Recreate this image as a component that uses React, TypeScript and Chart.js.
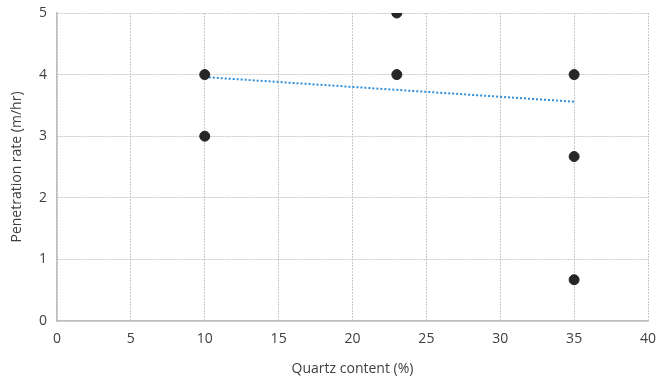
import React, { useEffect, useRef } from "react";
import { Chart, registerables } from "chart.js";

Chart.register(...registerables);

const quartzContent = [10, 10, 23, 23, 35, 35, 35];
const penetrationRate = [4, 3, 5, 4, 4, 2.67, 0.67];
const trendX = [10, 35];
const trendY = [3.96, 3.56];
const xTicks = [0, 5, 10, 15, 20, 25, 30, 35, 40];
const yTicks = [0, 1, 2, 3, 4, 5];

const FONT = "'Open Sans', 'Noto Sans', sans-serif";

export default function App() {
  const ref = useRef<HTMLCanvasElement | null>(null);
  useEffect(() => {
    document.body.style.margin = "0";
    const ctx = ref.current!;
    const chart = new Chart(ctx, {
      type: "scatter",
      data: {
        datasets: [
          {
            label: "Trend",
            data: trendX.map((x, i) => ({ x, y: trendY[i] })),
            showLine: true,
            borderColor: "#2f8fdc",
            borderWidth: 2,
            borderDash: [2, 2],
            pointRadius: 0,
            fill: false,
            order: 2,
          },
          {
            label: "Data",
            data: quartzContent.map((x, i) => ({ x, y: penetrationRate[i] })),
            backgroundColor: "#262626",
            borderColor: "#262626",
            pointRadius: 5,
            pointHoverRadius: 5,
            order: 1,
          },
        ],
      },
      options: {
        animation: false,
        responsive: false,
        layout: { padding: { left: 0, right: 10, top: 13, bottom: 0 } },
        plugins: { legend: { display: false }, tooltip: { enabled: false } },
        scales: {
          x: {
            type: "linear",
            min: 0,
            max: 40,
            afterBuildTicks: (s: any) => {
              s.ticks = xTicks.map((v) => ({ value: v }));
            },
            afterFit: (s: any) => {
              s.height = 67;
              s.paddingLeft = 0;
              s.paddingRight = 0;
            },
            ticks: {
              color: "#404040",
              font: { family: FONT, size: 14 },
              padding: 10,
              maxRotation: 0,
            },
            grid: { color: "#c8c8c8", tickLength: 0, drawTicks: false },
            border: { color: "#bfbfbf", width: 1.5, dash: [2, 1] },
            title: {
              display: true,
              text: "Quartz content (%)",
              color: "#404040",
              font: { family: FONT, size: 14 },
              padding: { top: 8, bottom: 11 },
            },
          },
          y: {
            type: "linear",
            min: 0,
            max: 5,
            afterBuildTicks: (s: any) => {
              s.ticks = yTicks.map((v) => ({ value: v }));
            },
            afterFit: (s: any) => {
              s.width = 57;
              s.paddingTop = 0;
              s.paddingBottom = 0;
            },
            ticks: {
              color: "#404040",
              font: { family: FONT, size: 14 },
              padding: 10,
            },
            grid: { color: "#c8c8c8", tickLength: 0, drawTicks: false },
            border: { color: "#bfbfbf", width: 1.5, dash: [2, 1] },
            title: {
              display: true,
              text: "Penetration rate (m/hr)",
              color: "#404040",
              font: { family: FONT, size: 14 },
              padding: { top: 9, bottom: 4 },
            },
          },
        },
      },
    });
    return () => chart.destroy();
  }, []);
  return (
    <div style={{ width: 658, height: 388 }}>
      <canvas ref={ref} width={658} height={388} />
    </div>
  );
}
